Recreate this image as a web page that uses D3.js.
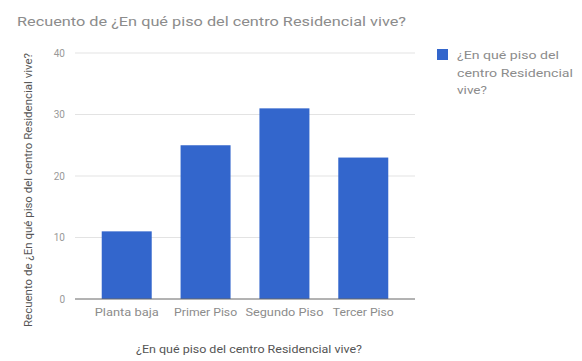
<!DOCTYPE html>
<html>
<head>
<meta charset="utf-8">
<script src="https://cdn.jsdelivr.net/npm/d3@7"></script>
<style>
  html, body { margin: 0; padding: 0; background: #fff; }
  svg { display: block; font-family: Roboto, "Noto Sans", sans-serif; }
</style>
</head>
<body>
<svg id="chart" width="582" height="361"></svg>
<script>
// Count of residents per floor
const categories = ["Planta baja", "Primer Piso", "Segundo Piso", "Tercer Piso"];
const counts = [11, 25, 31, 23];
const yTicks = [0, 10, 20, 30, 40];

const titleText = "Recuento de ¿En qué piso del centro Residencial vive?";
const xTitle = "¿En qué piso del centro Residencial vive?";
const yTitle = "Recuento de ¿En qué piso del centro Residencial vive?";
const legendLines = ["¿En qué piso del", "centro Residencial", "vive?"];

// Rendered widths of the wide label face
const tickLabelWidths = [64, 63, 78, 61];
const legendWidths = [102, 116, 30];

const svg = d3.select("#chart");
const plot = { left: 75, right: 415, top: 53, bottom: 299 };

const x = d3.scaleBand()
  .domain(categories)
  .range([87.3, 402.7])
  .paddingInner(0.366)
  .paddingOuter(0.183);

const y = d3.scaleLinear()
  .domain([0, 40])
  .range([plot.bottom, plot.top]);

// Title
svg.append("text")
  .attr("x", 17).attr("y", 26)
  .attr("font-size", 13.5)
  .attr("fill", "#8c8c8c")
  .attr("textLength", 389).attr("lengthAdjust", "spacingAndGlyphs")
  .text(titleText);

// Gridlines
svg.append("g").selectAll("line")
  .data(yTicks.filter(d => d !== 0))
  .join("line")
  .attr("x1", plot.left).attr("x2", plot.right)
  .attr("y1", d => y(d)).attr("y2", d => y(d))
  .attr("stroke", "#e3e3e3").attr("stroke-width", 1);

// Y axis labels
const yAxis = d3.axisLeft(y).tickValues(yTicks).tickSize(0).tickPadding(10);
const gy = svg.append("g").attr("transform", `translate(${plot.left},0)`).call(yAxis);
gy.select(".domain").remove();
gy.selectAll("text").attr("font-size", 10).attr("fill", "#999")
  .attr("font-family", "Roboto, 'Noto Sans', sans-serif");

// Bars
svg.append("g").selectAll("rect")
  .data(categories.map((c, i) => ({ c, v: counts[i] })))
  .join("rect")
  .attr("x", d => x(d.c))
  .attr("width", x.bandwidth())
  .attr("y", d => y(d.v))
  .attr("height", d => y(0) - y(d.v))
  .attr("fill", "#3366cc");

// Baseline
svg.append("line")
  .attr("x1", plot.left).attr("x2", plot.right)
  .attr("y1", y(0)).attr("y2", y(0))
  .attr("stroke", "#666").attr("stroke-width", 1);

// X axis labels
const xAxis = d3.axisBottom(x).tickSize(0).tickPadding(10);
const gx = svg.append("g").attr("transform", `translate(0,${plot.bottom})`).call(xAxis);
gx.select(".domain").remove();
gx.selectAll("text")
  .attr("font-size", 10.5).attr("fill", "#8c8c8c")
  .attr("font-family", "Roboto, 'Noto Sans', sans-serif")
  .attr("textLength", (d, i) => tickLabelWidths[i])
  .attr("lengthAdjust", "spacingAndGlyphs");

// X axis title
svg.append("text")
  .attr("x", 249).attr("y", 353)
  .attr("text-anchor", "middle")
  .attr("font-size", 10).attr("fill", "#555")
  .attr("textLength", 226).attr("lengthAdjust", "spacingAndGlyphs")
  .text(xTitle);

// Y axis title
svg.append("text")
  .attr("transform", `translate(32,190) rotate(-90)`)
  .attr("text-anchor", "middle")
  .attr("font-size", 10).attr("fill", "#555")
  .attr("textLength", 274).attr("lengthAdjust", "spacingAndGlyphs")
  .text(yTitle);

// Legend
const lg = svg.append("g");
lg.append("rect")
  .attr("x", 437).attr("y", 49).attr("width", 11).attr("height", 11)
  .attr("fill", "#3366cc");
lg.selectAll("text")
  .data(legendLines)
  .join("text")
  .attr("x", 457)
  .attr("y", (d, i) => 59 + i * 17.5)
  .attr("font-size", 10.5).attr("fill", "#8c8c8c")
  .attr("textLength", (d, i) => legendWidths[i])
  .attr("lengthAdjust", "spacingAndGlyphs")
  .text(d => d);
</script>
</body>
</html>
